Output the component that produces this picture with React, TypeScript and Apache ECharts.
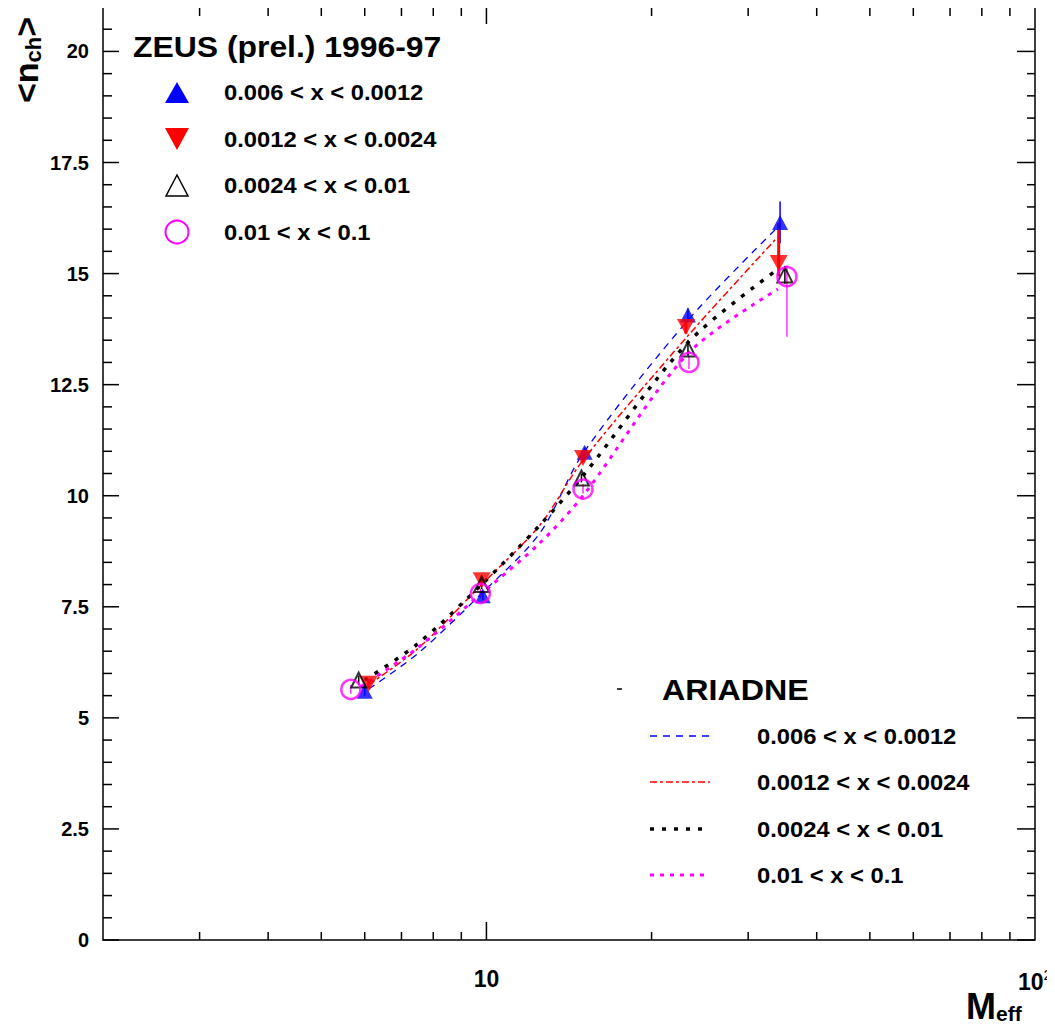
import React, { useEffect, useRef } from "react";
import * as echarts from "echarts";

// ---------- data ----------
const xMinorTicks = [3, 4, 5, 6, 7, 8, 9, 20, 30, 40, 50, 60, 70, 80, 90];
const xMajorTicks = [10];
const xLabelValues = [10, 100];
const xLabelTexts = ["10", "10{s|2}"];
const yMajorTicks = [0, 2.5, 5, 7.5, 10, 12.5, 15, 17.5, 20];
const yMinorTicks = [
  0.5, 1, 1.5, 2, 3, 3.5, 4, 4.5, 5.5, 6, 6.5, 7, 8, 8.5, 9, 9.5, 10.5, 11, 11.5, 12,
  13, 13.5, 14, 14.5, 15.5, 16, 16.5, 17, 18, 18.5, 19, 19.5, 20.5,
];

const legendLabels = ["0.006 < x < 0.0012", "0.0012 < x < 0.0024", "0.0024 < x < 0.01", "0.01 < x < 0.1"];

// ZEUS data points (M_eff, <n_ch>)
const blueX = [6.0, 9.85, 15.1, 23.3, 34.3];
const blueY = [5.6, 7.75, 10.98, 14.07, 16.15];
const blueErrLo = [0.1, 0.1, 0.1, 0.15, 0.47];
const blueErrHi = [0.1, 0.1, 0.1, 0.15, 0.47];

const redX = [6.1, 9.8, 15.0, 23.1, 34.1];
const redY = [5.77, 8.1, 10.85, 13.8, 15.24];
const redErrLo = [0.1, 0.1, 0.1, 0.15, 0.3];
const redErrHi = [0.1, 0.1, 0.1, 0.15, 0.9];

const blackX = [5.85, 9.8, 14.9, 23.3, 35.0];
const blackY = [5.85, 8.0, 10.4, 13.3, 14.97];
const blackErrLo = [0.1, 0.1, 0.1, 0.15, 0.2];
const blackErrHi = [0.1, 0.1, 0.1, 0.15, 0.2];

const pinkX = [5.66, 9.75, 15.0, 23.4, 35.3];
const pinkY = [5.64, 7.8, 10.15, 13.0, 14.93];
const pinkErrLo = [0.1, 0.1, 0.1, 0.15, 1.35];
const pinkErrHi = [0.1, 0.1, 0.1, 0.15, 0.25];

// ARIADNE curves
const ariBlueX = [6.1, 7.5, 9.8, 12.5, 15, 23.3, 34];
const ariBlueY = [5.65, 6.45, 7.8, 9.15, 10.95, 13.95, 16.05];
const ariRedX = [6.1, 7.5, 9.8, 12.5, 15, 23.3, 34];
const ariRedY = [5.75, 6.56, 8.0, 9.33, 10.8, 13.6, 15.83];
const ariBlackX = [6.0, 7.5, 9.8, 12.5, 15, 23.3, 34];
const ariBlackY = [5.85, 6.67, 8.0, 9.33, 10.45, 13.45, 15.1];
const ariPinkX = [5.9, 7.5, 9.8, 12.5, 15, 23.3, 34];
const ariPinkY = [5.7, 6.58, 7.8, 8.93, 10.0, 13.2, 14.65];

const BLUE = "#0000ff";
const RED = "#ff0000";
const BLACK = "#000000";
const PINK = "#ff00ff";
const FONT = "Liberation Sans, Arial, Helvetica, sans-serif";

const zip = (xs: number[], ys: number[]) => xs.map((x, i) => [x, ys[i]]);
const zipErr = (xs: number[], ys: number[], lo: number[], hi: number[]) =>
  xs.map((x, i) => [x, ys[i], lo[i], hi[i]]);

function errSeries(data: number[][], color: string, width: number) {
  return {
    type: "custom",
    silent: true,
    z: 3,
    encode: { x: 0, y: 1 },
    data,
    renderItem: (params: any, api: any) => {
      const x = api.value(0);
      const y = api.value(1);
      const lo = api.value(2);
      const hi = api.value(3);
      const p = api.coord([x, y]);
      const t = api.coord([x, y + hi])[1];
      const b = api.coord([x, y - lo])[1];
      return {
        type: "line",
        shape: { x1: p[0], y1: t, x2: p[0], y2: b },
        style: { stroke: color, lineWidth: width },
      };
    },
  };
}

export default function App() {
  const ref = useRef<HTMLDivElement>(null);
  useEffect(() => {
    if (!ref.current) return;
    const chart = echarts.init(ref.current, undefined, { renderer: "svg" });

    const xTickData = [
      ...xMinorTicks.map((v) => [v, 1, 0]),
      ...xMajorTicks.map((v) => [v, 1, 1]),
    ];
    const yTickData = [
      ...yMinorTicks.map((v) => [10, v, 0]),
      ...yMajorTicks.map((v) => [10, v, 1]),
    ];

    const tickStyle = { stroke: "#000", lineWidth: 1.5 };

    const option: any = {
      animation: false,
      backgroundColor: "#ffffff",
      grid: {
        left: 103,
        right: 20,
        top: 7,
        bottom: 96,
        show: true,
        borderColor: "#000",
        borderWidth: 1.5,
        backgroundColor: "transparent",
      },
      xAxis: {
        type: "log",
        logBase: 10,
        min: 2,
        max: 100,
        axisLine: { show: false },
        axisTick: { show: false },
        splitLine: { show: false },
        minorTick: { show: false },
        axisLabel: { show: false },
      },
      yAxis: {
        type: "value",
        min: 0,
        max: 21,
        interval: 2.5,
        axisLine: { show: false },
        axisTick: { show: false },
        splitLine: { show: false },
        axisLabel: {
          margin: 14,
          color: "#000",
          fontFamily: FONT,
          fontSize: 20,
          fontWeight: "bold",
          formatter: (v: number) => (v > 20.01 ? "" : String(v)),
        },
      },
      series: [
        // x-axis labels, positioned through the log scale
        {
          type: "custom",
          silent: true,
          z: 10,
          encode: { x: 0, y: 1 },
          data: xLabelValues.map((v, i) => [v, 1, i]),
          renderItem: (params: any, api: any) => {
            const cs = params.coordSys;
            const px = api.coord([api.value(0), 1])[0];
            const i = params.dataIndex;
            return {
              type: "text",
              x: px,
              y: cs.y + cs.height + 27,
              style: {
                text: xLabelTexts[i],
                font: `bold 23px ${FONT}`,
                fill: "#000",
                align: "center",
                verticalAlign: "top",
                rich: { s: { font: `15px ${FONT}`, fill: "#000", padding: [0, 0, 14, 0] } },
              },
            };
          },
        },
        // ticks
        {
          type: "custom",
          silent: true,
          z: 10,
          encode: { x: 0, y: 1 },
          data: xTickData,
          renderItem: (params: any, api: any) => {
            const cs = params.coordSys;
            const px = api.coord([api.value(0), 1])[0];
            const major = api.value(2) === 1;
            const b = cs.y + cs.height;
            const t = cs.y;
            const lb = major ? 18 : 8;
            const lt = major ? 17 : 9;
            return {
              type: "group",
              children: [
                { type: "line", shape: { x1: px, y1: b, x2: px, y2: b - lb }, style: tickStyle },
                { type: "line", shape: { x1: px, y1: t, x2: px, y2: t + lt }, style: tickStyle },
              ],
            };
          },
        },
        {
          type: "custom",
          silent: true,
          z: 10,
          encode: { x: 0, y: 1 },
          data: yTickData,
          renderItem: (params: any, api: any) => {
            const cs = params.coordSys;
            const py = api.coord([10, api.value(1)])[1];
            const major = api.value(2) === 1;
            const l = cs.x;
            const r = cs.x + cs.width;
            const ll = major ? 16 : 9;
            const lr = major ? 18 : 8;
            return {
              type: "group",
              children: [
                { type: "line", shape: { x1: l, y1: py, x2: l + ll, y2: py }, style: tickStyle },
                { type: "line", shape: { x1: r, y1: py, x2: r - lr, y2: py }, style: tickStyle },
              ],
            };
          },
        },
        // ARIADNE lines
        {
          type: "line",
          data: zip(ariBlueX, ariBlueY),
          smooth: 0.3,
          symbol: "none",
          z: 2,
          lineStyle: { color: BLUE, width: 1.3, type: [7, 6] },
        },
        {
          type: "line",
          data: zip(ariRedX, ariRedY),
          smooth: 0.3,
          symbol: "none",
          z: 2,
          lineStyle: { color: RED, width: 1.5, type: [7, 3, 3, 3] },
        },
        {
          type: "line",
          data: zip(ariBlackX, ariBlackY),
          smooth: 0.3,
          symbol: "none",
          z: 2,
          lineStyle: { color: BLACK, width: 3.5, type: [4, 8] },
        },
        {
          type: "line",
          data: zip(ariPinkX, ariPinkY),
          smooth: 0.3,
          symbol: "none",
          z: 2,
          lineStyle: { color: PINK, width: 3, type: [4, 6] },
        },
        // error bars
        errSeries(zipErr(blueX, blueY, blueErrLo, blueErrHi), BLUE, 1.5),
        errSeries(zipErr(redX, redY, redErrLo, redErrHi), RED, 3),
        errSeries(zipErr(blackX, blackY, blackErrLo, blackErrHi), BLACK, 1.5),
        errSeries(zipErr(pinkX, pinkY, pinkErrLo, pinkErrHi), PINK, 1.2),
        // markers
        {
          type: "scatter",
          data: zip(blueX, blueY),
          symbol: "triangle",
          symbolSize: [16, 15],
          z: 4,
          itemStyle: { color: BLUE },
        },
        {
          type: "scatter",
          data: zip(redX, redY),
          symbol: "path://M0,0L10,0L5,9Z",
          symbolSize: [18, 16],
          z: 4,
          itemStyle: { color: RED },
        },
        {
          type: "scatter",
          data: zip(blackX, blackY),
          symbol: "triangle",
          symbolSize: [15, 15],
          z: 4,
          itemStyle: { color: "rgba(255,255,255,0)", borderColor: BLACK, borderWidth: 2 },
        },
        {
          type: "scatter",
          data: zip(pinkX, pinkY),
          symbol: "circle",
          symbolSize: 19,
          z: 4,
          itemStyle: { color: "rgba(255,255,255,0)", borderColor: PINK, borderWidth: 2.5 },
        },
      ],
      graphic: [
        // axis titles
        {
          type: "text",
          x: 26,
          y: 60,
          rotation: Math.PI / 2,
          style: {
            text: "<n{s|ch}>",
            font: `bold 34px ${FONT}`,
            fill: "#000",
            align: "center",
            verticalAlign: "middle",
            rich: { s: { font: `bold 22px ${FONT}`, fill: "#000", padding: [14, 0, 0, 0] } },
          },
        },
        {
          type: "text",
          x: 966,
          y: 1006,
          style: {
            text: "M{s|eff}",
            font: `bold 36px ${FONT}`,
            fill: "#000",
            align: "left",
            verticalAlign: "middle",
            rich: { s: { font: `bold 21px ${FONT}`, fill: "#000", padding: [14, 0, 0, 0] } },
          },
        },
        // ZEUS legend
        {
          type: "text",
          x: 133,
          y: 47,
          scaleX: 1.1,
          style: { text: "ZEUS (prel.) 1996-97", font: `bold 29px ${FONT}`, fill: "#000", verticalAlign: "middle" },
        },
        {
          type: "polygon",
          shape: { points: [[165, 103], [189, 103], [177, 82]] },
          style: { fill: BLUE },
        },
        {
          type: "polygon",
          shape: { points: [[165, 128], [189, 128], [177, 150]] },
          style: { fill: RED },
        },
        {
          type: "polygon",
          shape: { points: [[166, 196], [188, 196], [177, 175]] },
          style: { fill: "none", stroke: BLACK, lineWidth: 1.5 },
        },
        {
          type: "circle",
          shape: { cx: 177, cy: 232, r: 11.5 },
          style: { fill: "none", stroke: PINK, lineWidth: 2 },
        },
        ...legendLabels.map((t, i) => ({
          type: "text",
          x: 224,
          y: [92, 139, 185, 232][i],
          scaleX: 1.08,
          style: { text: t, font: `bold 22px ${FONT}`, fill: "#000", verticalAlign: "middle" },
        })),
        // ARIADNE legend
        {
          type: "line",
          shape: { x1: 617, y1: 689, x2: 622, y2: 689 },
          style: { stroke: "#000", lineWidth: 1.5 },
        },
        {
          type: "text",
          x: 662,
          y: 690,
          scaleX: 1.11,
          style: { text: "ARIADNE", font: `bold 29px ${FONT}`, fill: "#000", verticalAlign: "middle" },
        },
        {
          type: "line",
          shape: { x1: 650, y1: 736, x2: 710, y2: 736 },
          style: { stroke: BLUE, lineWidth: 1.3, lineDash: [7, 6] },
        },
        {
          type: "line",
          shape: { x1: 650, y1: 782, x2: 710, y2: 782 },
          style: { stroke: RED, lineWidth: 1.5, lineDash: [7, 3, 3, 3] },
        },
        {
          type: "line",
          shape: { x1: 650, y1: 829, x2: 710, y2: 829 },
          style: { stroke: BLACK, lineWidth: 3.5, lineDash: [4, 8] },
        },
        {
          type: "line",
          shape: { x1: 650, y1: 875, x2: 710, y2: 875 },
          style: { stroke: PINK, lineWidth: 3, lineDash: [4, 6] },
        },
        ...legendLabels.map((t, i) => ({
          type: "text",
          x: 757,
          y: [736, 782, 829, 875][i],
          scaleX: 1.08,
          style: { text: t, font: `bold 22px ${FONT}`, fill: "#000", verticalAlign: "middle" },
        })),
      ],
    };

    chart.setOption(option);
    return () => chart.dispose();
  }, []);

  return <div ref={ref} style={{ width: 1055, height: 1036, margin: -8 }} />;
}
